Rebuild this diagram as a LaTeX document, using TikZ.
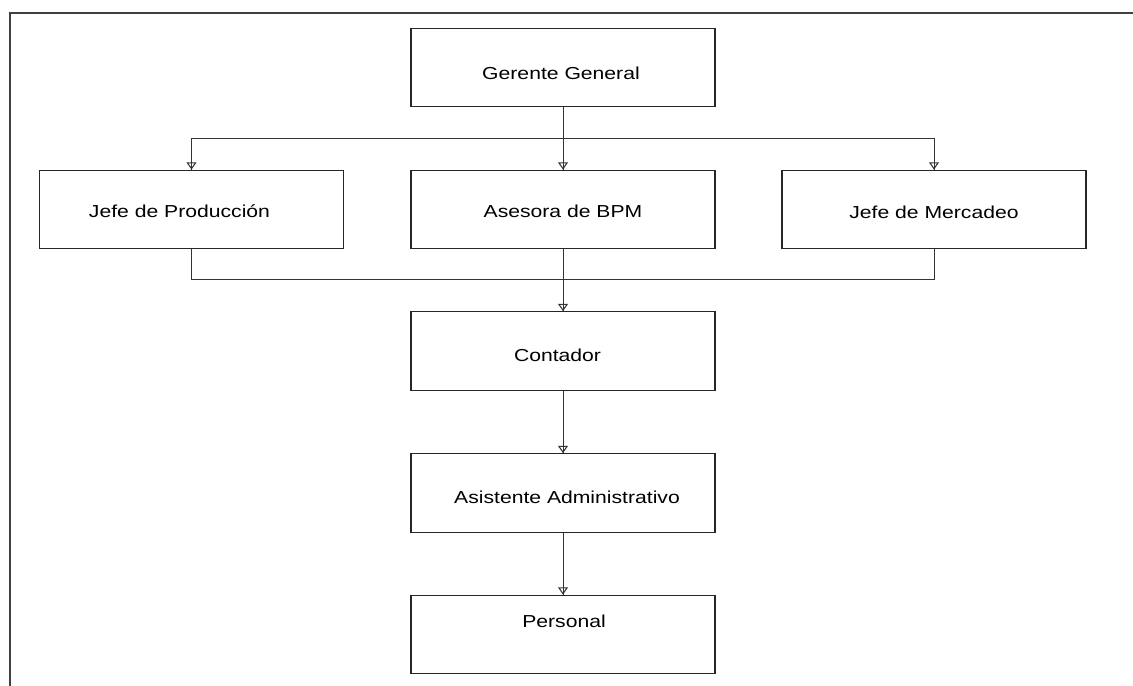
\documentclass[tikz,border=0pt]{standalone}
\usepackage{fontspec}
\setmainfont{Liberation Sans}
\usetikzlibrary{arrows.meta}
\begin{document}
\begin{tikzpicture}[x=0.75pt,y=-0.75pt,
  box/.style={draw=black!85, line width=0.8pt, minimum width=228pt, minimum height=59pt, inner sep=0pt},
  lbl/.style={anchor=base, inner sep=0pt, font=\fontsize{13pt}{15pt}\selectfont},
  conn/.style={draw=black!80, line width=0.75pt},
  arr/.style={conn, -{Triangle[open, width=7.5pt, length=5.5pt, line width=0.8pt]}}]
\useasboundingbox (0,0) rectangle (1133,686);
% frame
\draw[line width=1pt, draw=black!75] (10,686) -- (10,13) -- (1133,13);
% boxes
\node[box] (g)  at (563,67.5) {};
\node[box] (jp) at (191.5,209.5) {};
\node[box] (ab) at (563,209.5) {};
\node[box] (jm) at (934,209.5) {};
\node[box] (c)  at (563,351) {};
\node[box] (aa) at (563,493) {};
\node[box] (p)  at (563,634.5) {};
% labels
\node[lbl] (tg)  at (561,79)   {\scalebox{1.22}[1]{Gerente General}};
\node[lbl] (tjp) at (179.5,217) {\scalebox{1.22}[1]{Jefe de Producción}};
\node[lbl] (tab) at (563,217)  {\scalebox{1.22}[1]{Asesora de BPM}};
\node[lbl] (tjm) at (934,218)  {\scalebox{1.22}[1]{Jefe de Mercadeo}};
\node[lbl] (tc)  at (557.5,361) {\scalebox{1.22}[1]{Contador}};
\node[lbl] (taa) at (567,503)  {\scalebox{1.22}[1]{Asistente Administrativo}};
\node[lbl] (tp)  at (564,627)  {\scalebox{1.22}[1]{Personal}};
% bus coordinates
\coordinate (b1) at (563,138);
\coordinate (b2) at (563,279);
% top distribution
\draw[conn] (g.south) -- (b1);
\draw[conn] (b1) -| (jp.north);
\draw[conn] (b1) -| (jm.north);
\draw[conn] (b1) -- (ab.north);
\draw[arr] (b1) -| (jp.north);
\draw[arr] (b1) -| (jm.north);
\draw[arr] (b1) -- (ab.north);
% bottom collection
\draw[conn] (jp.south) |- (b2);
\draw[conn] (jm.south) |- (b2);
\draw[conn] (ab.south) -- (c.north);
\draw[arr] (b2) -- (c.north);
% chain
\draw[conn] (c.south) -- (aa.north);
\draw[arr] (c.south) -- (aa.north);
\draw[conn] (aa.south) -- (p.north);
\draw[arr] (aa.south) -- (p.north);
\end{tikzpicture}
\end{document}
